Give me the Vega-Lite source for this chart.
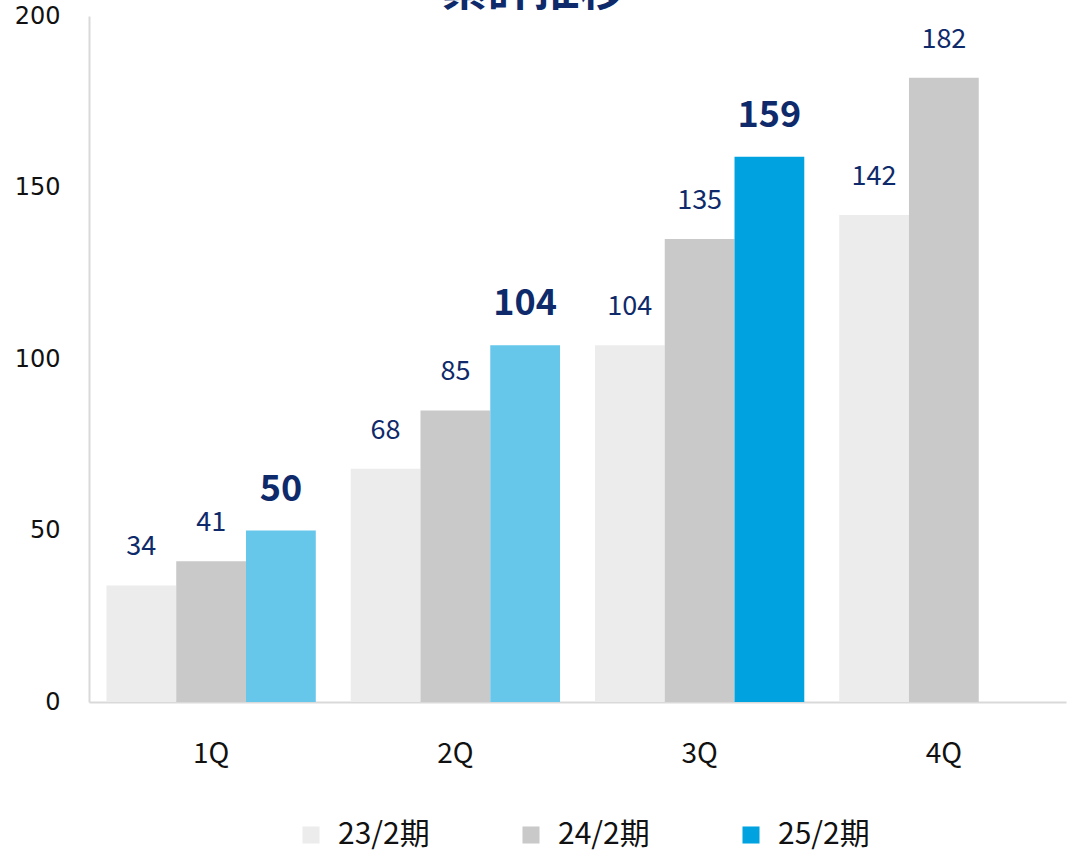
{
  "$schema": "https://vega.github.io/schema/vega-lite/v6.json",
  "width": 977,
  "height": 686,
  "autosize": {"type": "none"},
  "padding": {"left": 89, "top": 16, "right": 10, "bottom": 156},
  "background": "white",
  "title": {
    "text": "累計推移",
    "font": "Noto Sans CJK JP",
    "fontSize": 46,
    "fontWeight": "bold",
    "color": "#0e2a6b",
    "anchor": "middle",
    "offset": -11,
    "dx": -44
  },
  "data": {
    "values": [
      {"q": "1Q", "series": "23/2期", "value": 34},
      {"q": "1Q", "series": "24/2期", "value": 41},
      {"q": "1Q", "series": "25/2期", "value": 50},
      {"q": "2Q", "series": "23/2期", "value": 68},
      {"q": "2Q", "series": "24/2期", "value": 85},
      {"q": "2Q", "series": "25/2期", "value": 104},
      {"q": "3Q", "series": "23/2期", "value": 104},
      {"q": "3Q", "series": "24/2期", "value": 135},
      {"q": "3Q", "series": "25/2期", "value": 159},
      {"q": "4Q", "series": "23/2期", "value": 142},
      {"q": "4Q", "series": "24/2期", "value": 182}
    ]
  },
  "encoding": {
    "x": {
      "field": "q", "type": "nominal",
      "scale": {"paddingInner": 0.143, "paddingOuter": 0.0715},
      "axis": {
        "title": null, "labelAngle": 0, "ticks": false,
        "labelFont": "Noto Sans CJK JP", "labelFontSize": 28, "labelColor": "#111111",
        "labelPadding": 38, "domainColor": "#d9d9d9", "domainWidth": 2
      }
    },
    "xOffset": {
      "field": "series", "type": "nominal",
      "scale": {"domain": ["23/2期", "24/2期", "25/2期"], "paddingInner": 0, "paddingOuter": 0}
    },
    "y": {
      "field": "value", "type": "quantitative",
      "scale": {"domain": [0, 200], "nice": false},
      "axis": {
        "title": null, "values": [0, 50, 100, 150, 200], "ticks": false, "grid": false,
        "labelFont": "DejaVu Sans", "labelFontSize": 24, "labelColor": "#111111",
        "labelPadding": 29, "domainColor": "#d9d9d9", "domainWidth": 2
      }
    }
  },
  "layer": [
    {
      "mark": {"type": "bar"},
      "encoding": {
        "color": {
          "field": "series", "type": "nominal",
          "scale": {"domain": ["23/2期", "24/2期", "25/2期"], "range": ["#ececec", "#c9c9c9", "#00a3e0"]},
          "condition": {"test": "datum.series === '25/2期' && datum.q !== '3Q'", "value": "#66c7eb"},
          "legend": {
            "title": null, "orient": "none", "direction": "horizontal",
            "legendX": 207, "legendY": 804,
            "symbolType": "square", "symbolSize": 290, "symbolStrokeWidth": 0,
            "labelFont": "Noto Sans CJK JP", "labelFontSize": 30, "labelColor": "#111111",
            "labelOffset": 12, "columnPadding": 86
          }
        }
      }
    },
    {
      "transform": [{"filter": "datum.series !== '25/2期'"}],
      "mark": {"type": "text", "baseline": "alphabetic", "dy": -30, "font": "Noto Sans CJK JP", "fontSize": 27, "color": "#0e2a6b"},
      "encoding": {"text": {"field": "value", "type": "quantitative"}}
    },
    {
      "transform": [{"filter": "datum.series === '25/2期'"}],
      "mark": {"type": "text", "baseline": "alphabetic", "dy": -30, "font": "Noto Sans CJK JP", "fontSize": 36, "fontWeight": "bold", "color": "#0e2a6b"},
      "encoding": {"text": {"field": "value", "type": "quantitative"}}
    }
  ],
  "config": {"view": {"stroke": null}}
}
